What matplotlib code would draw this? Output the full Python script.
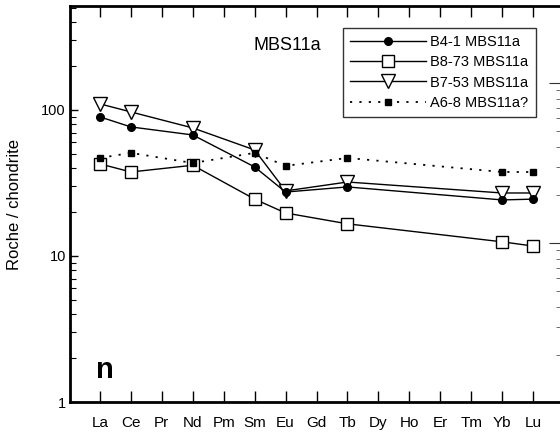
import matplotlib
matplotlib.use("Agg")
import matplotlib.pyplot as plt
import numpy as np
from matplotlib.ticker import LogLocator, NullFormatter, FixedLocator

plt.rcParams['font.family'] = ['Liberation Sans', 'DejaVu Sans']

# Rare earth elements along the x axis
elements = ["La", "Ce", "Pr", "Nd", "Pm", "Sm", "Eu", "Gd", "Tb", "Dy",
            "Ho", "Er", "Tm", "Yb", "Lu"]
measured = ["La", "Ce", "Nd", "Sm", "Eu", "Tb", "Yb", "Lu"]

# Chondrite-normalised concentrations for the measured elements
b4_1 = [89.6, 76.5, 67.4, 40.7, 27.4, 29.7, 24.2, 24.5]
b8_73 = [42.7, 37.6, 41.8, 24.5, 19.7, 16.6, 12.5, 11.7]
b7_53 = [110.0, 96.9, 75.3, 53.2, 27.9, 32.1, 27.0, 27.0]
a6_8 = [46.9, 50.8, 43.3, 50.8, 41.4, 46.9, 37.6, 37.6]

series_names = ["B4-1 MBS11a", "B8-73 MBS11a", "B7-53 MBS11a", "A6-8 MBS11a?"]

W, H = 560, 442
fig = plt.figure(figsize=(W / 100, H / 100), dpi=100)

left_px, right_px, top_px, bottom_px = 70, 590, 6, 402
ax = fig.add_axes([left_px / W, 1 - bottom_px / H,
                   (right_px - left_px) / W, (bottom_px - top_px) / H])

xpos = [elements.index(e) for e in measured]

ax.plot(xpos, b4_1, '-', color='black', lw=1.0, marker='o', ms=5.5,
        mfc='black', mec='black', label=series_names[0], zorder=3)
ax.plot(xpos, b8_73, '-', color='black', lw=1.0, marker='s', ms=8.5,
        mfc='white', mec='black', mew=1.0, label=series_names[1], zorder=2)
ax.plot(xpos, b7_53, '-', color='black', lw=1.0, marker='v', ms=9.5,
        mfc='white', mec='black', mew=1.0, label=series_names[2], zorder=2)
ax.plot(xpos, a6_8, linestyle=(0, (1.2, 4)), color='black', lw=1.3,
        marker='s', ms=5, mfc='black', mec='black',
        label=series_names[3], zorder=4)

ax.set_yscale('log')
ax.set_ylim(1, 515)
spacing = (533 - 100) / 14
ax.set_xlim(-(100 - left_px) / spacing, (right_px - 100) / spacing)

ax.xaxis.set_major_locator(FixedLocator(range(len(elements))))
ax.set_xticklabels(elements, fontsize=11)
ax.tick_params(axis='x', which='major', direction='in', length=8, width=1.0,
               top=True, bottom=True, pad=10)

ax.yaxis.set_minor_locator(LogLocator(base=10, subs=np.arange(2, 10), numticks=10))
ax.yaxis.set_minor_formatter(NullFormatter())
ax.set_yticks([1, 10, 100])
ax.set_yticklabels(["1", "10", "100"], fontsize=10.5)
ax.tick_params(axis='y', which='major', direction='in', length=6, width=1.0,
               left=True, right=False, pad=3)
ax.tick_params(axis='y', which='minor', direction='in', length=4, width=0.8,
               left=True, right=False)

for side in ['left', 'top', 'bottom']:
    ax.spines[side].set_linewidth(2.0)
ax.spines['right'].set_visible(False)

ax.set_ylabel("Roche / chondrite", fontsize=12, labelpad=6)
ax.yaxis.set_label_coords(-(left_px - 22) / (right_px - left_px), 0.5)

fig.text(287 / W, 1 - 45 / H, "MBS11a", fontsize=13, ha='center', va='center')
fig.text(105 / W, 1 - 370 / H, "n", fontsize=21, fontweight='bold',
         ha='center', va='center')

leg = ax.legend(loc='upper left', bbox_to_anchor=(343 / W, 1 - 28 / H),
                bbox_transform=fig.transFigure, borderaxespad=0,
                frameon=True, fancybox=False, fontsize=10.5,
                handlelength=5.2, handletextpad=0.3, labelspacing=0.42,
                borderpad=0.5)
leg.get_frame().set_edgecolor('black')
leg.get_frame().set_linewidth(1.0)

# Neighbouring panel's axis ticks on the right margin
ax2 = fig.add_axes([560 / W, 1 - 380 / H, 0.05, (380 - 69) / H])
ax2.set_yscale('log')
dec = 160.0
ax2.set_ylim(10 ** (1 - (380 - 243) / dec), 10 ** (1 + (243 - 69) / dec))
ax2.set_yticks([10, 100])
ax2.yaxis.set_minor_locator(LogLocator(base=10, subs=np.arange(2, 10), numticks=10))
ax2.yaxis.set_minor_formatter(NullFormatter())
ax2.set_yticklabels([])
ax2.tick_params(axis='y', which='major', direction='out', length=8, width=0.8,
                color='#333333')
ax2.tick_params(axis='y', which='minor', direction='out', length=3, width=0.6,
                color='#555555')
ax2.set_xticks([])
for s in ax2.spines.values():
    s.set_visible(False)
ax2.patch.set_visible(False)

fig.savefig("out.png", dpi=100)
